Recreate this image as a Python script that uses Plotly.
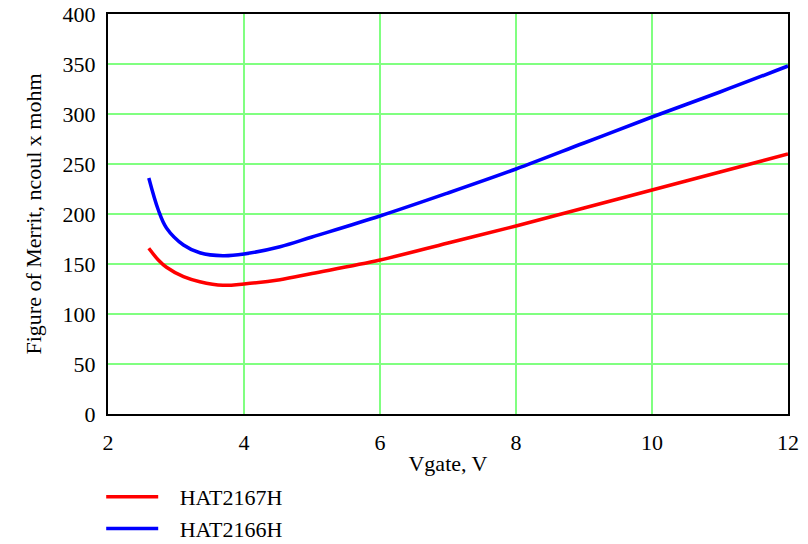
import plotly.graph_objects as go

vgate_blue = [2.6, 2.74, 2.86, 3.11, 3.35, 3.69, 4.0, 4.53, 5.0, 6.0, 7.0, 8.0, 9.0, 10.0, 11.0, 12.0]
fom_hat2166h = [236, 204, 186, 169, 161.3, 158.3, 160, 167.3, 177, 198, 221, 245, 271, 297, 322, 348]

vgate_red = [2.6, 2.74, 2.86, 3.11, 3.35, 3.69, 4.0, 4.53, 5.0, 6.0, 7.0, 8.0, 9.0, 10.0, 11.0, 12.0]
fom_hat2167h = [165.7, 154, 146.7, 137.3, 132.3, 128.7, 130, 134.3, 140.5, 154, 171, 188, 206, 224, 242, 260]

x_ticks = [2, 4, 6, 8, 10, 12]
y_ticks = [0, 50, 100, 150, 200, 250, 300, 350, 400]

font = "Liberation Serif"
fs = 22
pad = "\u00a0\u00a0\u00a0"

fig = go.Figure()
fig.add_trace(go.Scatter(x=vgate_red, y=fom_hat2167h, mode="lines", name=pad + "HAT2167H",
                         line=dict(color="#ff0000", width=3.5, shape="spline")))
fig.add_trace(go.Scatter(x=vgate_blue, y=fom_hat2166h, mode="lines", name=pad + "HAT2166H",
                         line=dict(color="#0000ff", width=3.5, shape="spline")))

axis_common = dict(showline=True, linecolor="black", linewidth=2, mirror=True,
                   showgrid=True, gridcolor="#80ff80", gridwidth=1.5,
                   zeroline=False, ticks="", automargin=False,
                   tickfont=dict(family=font, size=fs, color="black"))

fig.update_xaxes(range=[2, 12], tickvals=x_ticks, ticktext=[str(v) for v in x_ticks],
                 ticklabelstandoff=8,
                 title=dict(text="Vgate, V", font=dict(family=font, size=fs, color="black")),
                 **axis_common)
fig.update_yaxes(range=[0, 400], tickvals=y_ticks, ticktext=[str(v) for v in y_ticks],
                 ticklabelstandoff=6,
                 title=dict(text="Figure of Merrit, ncoul x mohm", font=dict(family=font, size=fs, color="black")),
                 **axis_common)

fig.update_layout(
    width=808, height=544,
    margin=dict(l=108, r=20, t=14, b=130, autoexpand=False),
    plot_bgcolor="white", paper_bgcolor="white",
    font=dict(family=font, size=fs, color="black"),
    showlegend=True,
    legend=dict(x=-0.01, y=0.125, xanchor="left", yanchor="top", yref="container",
                orientation="v",
                font=dict(family=font, size=fs, color="black"), itemwidth=52,
                tracegroupgap=0, bgcolor="rgba(0,0,0,0)"),
)

fig.write_html("out.html")
